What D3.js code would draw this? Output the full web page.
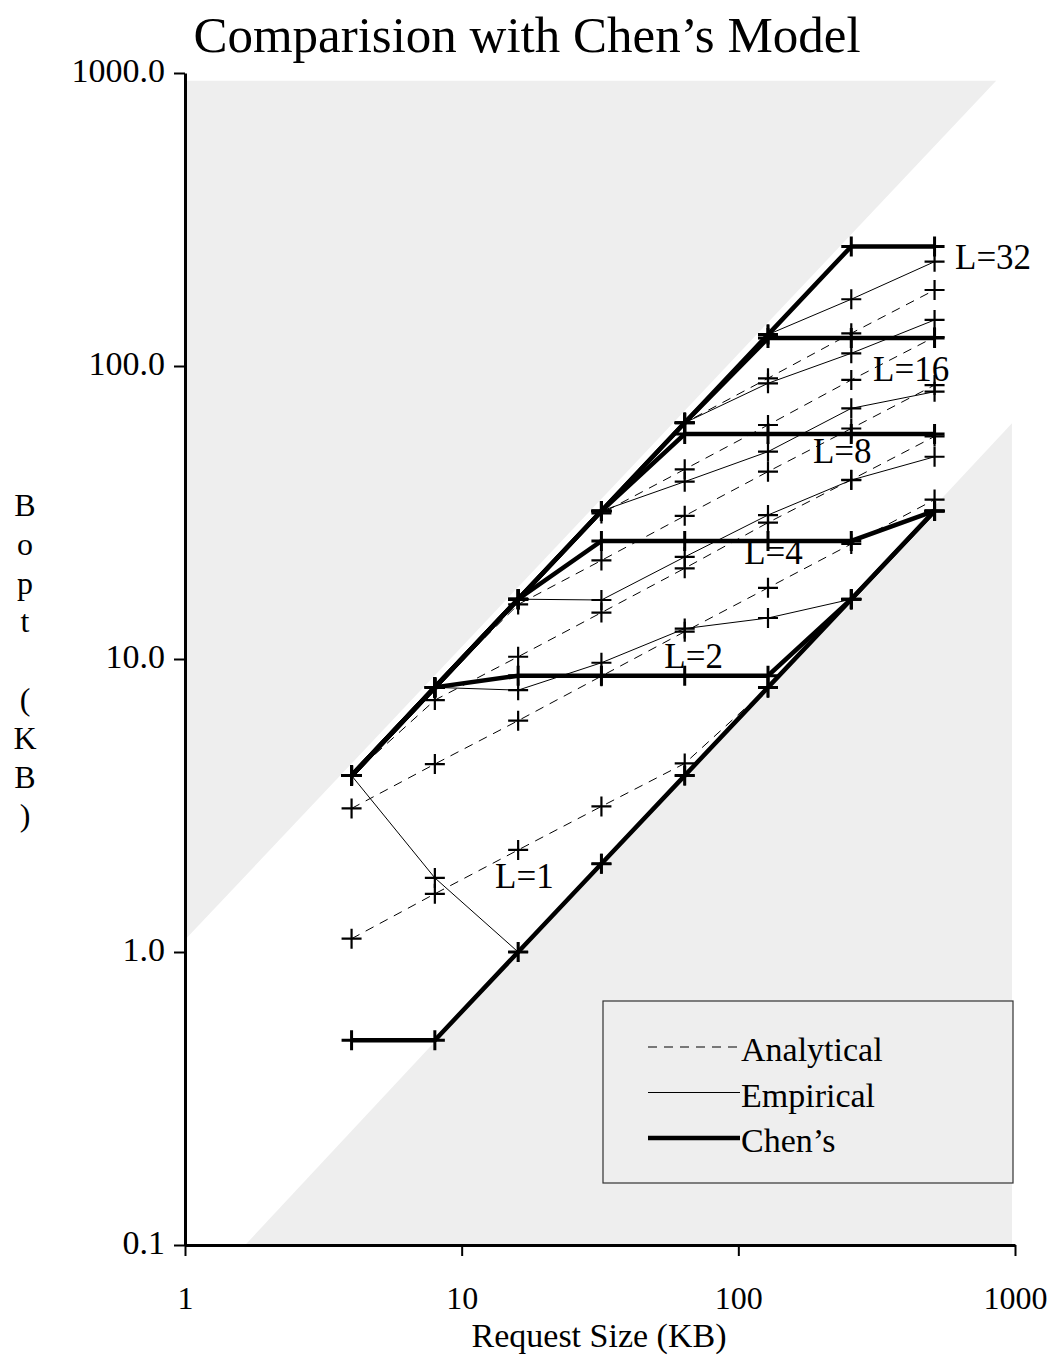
<!DOCTYPE html>
<html>
<head>
<meta charset="utf-8">
<script src="https://cdn.jsdelivr.net/npm/d3@7"></script>
<style>
  body { margin: 0; background: #fff; }
  svg { font-family: "Liberation Serif", "Times New Roman", serif; }
</style>
</head>
<body>
<div id="chart"></div>
<script>
// request sizes (KB) on the x axis
var requestSizes = [4, 8, 16, 32, 64, 128, 256, 512];
var levelNames = ["L=1", "L=2", "L=4", "L=8", "L=16", "L=32"];

// Bopt (KB), one row per L
var analytical = [
  [1.11, 1.58, 2.23, 3.14, 4.4, 8, 16, 32],
  [3.09, 4.38, 6.16, 8.74, 12.4, 17.5, 24.7, 35],
  [4, 7.24, 10.18, 14.4, 20.4, 29.2, 40.9, 57.5],
  [4, 8, 15.35, 21.7, 30.8, 43.6, 61.2, 86.1],
  [4, 8, 16, 31.4, 44.4, 62.9, 89.6, 125.6],
  [4, 8, 16, 32, 64, 90.8, 129.3, 181.7]
];
var empirical = [
  [4, 1.79, 1.0, 2, 4, 8, 16, 32],
  [4, 8, 7.83, 9.71, 12.7, 13.8, 16, 32],
  [4, 8, 16, 15.9, 22.3, 31, 40.8, 49],
  [4, 8, 16, 32, 40.3, 51, 71.7, 81.7],
  [4, 8, 16, 32, 64, 87.3, 110.5, 143.6],
  [4, 8, 16, 32, 64, 128, 169, 227]
];
var chens = [
  [0.5, 0.5, 1, 2, 4, 8, 16, 32],
  [4, 8, 8.77, 8.77, 8.77, 8.77, 16, 32],
  [4, 8, 16, 25.3, 25.3, 25.3, 25.3, 32],
  [4, 8, 16, 32, 58.6, 58.6, 58.6, 58.6],
  [4, 8, 16, 32, 64, 124.5, 124.5, 124.5],
  [4, 8, 16, 32, 64, 128, 256, 256]
];

// where each L label sits, in data units [request size, Bopt]
var labelSizes = [13.2, 54, 105, 186, 307, 607];
var labelBopt = [1.65, 9.3, 21.1, 46.6, 89, 214];

// shaded (infeasible) regions, data units
var upperShade = [[1, 1.1], [855, 940], [1, 940]];
var lowerShade = [[1.65, 0.1], [975, 63.8], [975, 0.1]];

var xTicks = [1, 10, 100, 1000];
var yTicks = [0.1, 1, 10, 100, 1000];
var legendItems = ["Analytical", "Empirical", "Chen\u2019s"];

var width = 1052, height = 1357;

var svg = d3.select("#chart")
  .append("svg")
    .attr("width", width)
    .attr("height", height);

var x = d3.scaleLog().domain([1, 1000]).range([185, 1015]);
var y = d3.scaleLog().domain([0.1, 1000]).range([1245, 73]);

// gray regions
var area = d3.line()
  .x(function(d) { return x(d[0]); })
  .y(function(d) { return y(d[1]); });
[upperShade, lowerShade].forEach(function(poly) {
  svg.append("path")
    .attr("d", area(poly) + "Z")
    .attr("fill", "#eeeeee");
});

var line = d3.line()
  .x(function(d, i) { return x(requestSizes[i]); })
  .y(function(d) { return y(d); });

var styles = [
  { rows: analytical, width: 1, dash: "9,7", mark: 2.2 },
  { rows: empirical, width: 1, dash: null, mark: 2.2 },
  { rows: chens, width: 4.5, dash: null, mark: 3 }
];

styles.forEach(function(s) {
  s.rows.forEach(function(row) {
    svg.append("path")
      .datum(row)
      .attr("fill", "none")
      .attr("stroke", "#000")
      .attr("stroke-width", s.width)
      .attr("stroke-dasharray", s.dash)
      .attr("d", line);
  });
});

// + markers
styles.forEach(function(s) {
  s.rows.forEach(function(row) {
    var g = svg.append("g");
    row.forEach(function(v, i) {
      var cx = x(requestSizes[i]), cy = y(v), r = 10;
      g.append("path")
        .attr("d", "M" + (cx - r) + "," + cy + "H" + (cx + r) + "M" + cx + "," + (cy - r) + "V" + (cy + r))
        .attr("stroke", "#000")
        .attr("stroke-width", s.mark);
    });
  });
});

// L labels
levelNames.forEach(function(t, i) {
  svg.append("text")
    .attr("x", x(labelSizes[i]))
    .attr("y", y(labelBopt[i]))
    .attr("font-size", 35)
    .text(t);
});

// axes
var yAxis = svg.append("g")
  .attr("transform", "translate(185,0)")
  .call(d3.axisLeft(y).tickValues(yTicks).tickFormat(d3.format(".1f")).tickSize(11).tickSizeOuter(0).tickPadding(9));
var xAxis = svg.append("g")
  .attr("transform", "translate(0,1245)")
  .call(d3.axisBottom(x).tickValues(xTicks).tickFormat(d3.format("d")).tickSize(11).tickSizeOuter(0).tickPadding(24));

svg.selectAll(".domain").attr("stroke", "#000").attr("stroke-width", 3);
svg.selectAll(".tick line").attr("stroke", "#000").attr("stroke-width", 2);
svg.selectAll(".tick text")
  .attr("fill", "#000")
  .attr("font-family", "Liberation Serif, serif");
yAxis.selectAll(".tick text").attr("font-size", 34).attr("dy", "0.25em");
xAxis.selectAll(".tick text").attr("font-size", 32).attr("dy", "0.9em");

// titles
svg.append("text")
  .attr("x", 527)
  .attr("y", 52)
  .attr("text-anchor", "middle")
  .attr("font-size", 51)
  .text("Comparision with Chen\u2019s Model");

svg.append("text")
  .attr("x", 599)
  .attr("y", 1347)
  .attr("text-anchor", "middle")
  .attr("font-size", 34)
  .text("Request Size (KB)");

var yLabel = "Bopt (KB)".split("");
yLabel.forEach(function(c, i) {
  svg.append("text")
    .attr("x", 25)
    .attr("y", 516 + i * 38.8)
    .attr("text-anchor", "middle")
    .attr("font-size", 32)
    .text(c);
});

// legend
var legend = svg.append("g");
legend.append("rect")
  .attr("x", 603).attr("y", 1001)
  .attr("width", 410).attr("height", 182)
  .attr("fill", "#eeeeee")
  .attr("stroke", "#333")
  .attr("stroke-width", 1.2);
legendItems.forEach(function(t, i) {
  var ly = 1047 + i * 45.5;
  legend.append("line")
    .attr("x1", 648).attr("x2", 740)
    .attr("y1", ly).attr("y2", ly)
    .attr("stroke", "#000")
    .attr("stroke-width", styles[i].width)
    .attr("stroke-dasharray", styles[i].dash);
  legend.append("text")
    .attr("x", 741)
    .attr("y", ly + 14)
    .attr("font-size", 34)
    .text(t);
});
</script>
</body>
</html>
